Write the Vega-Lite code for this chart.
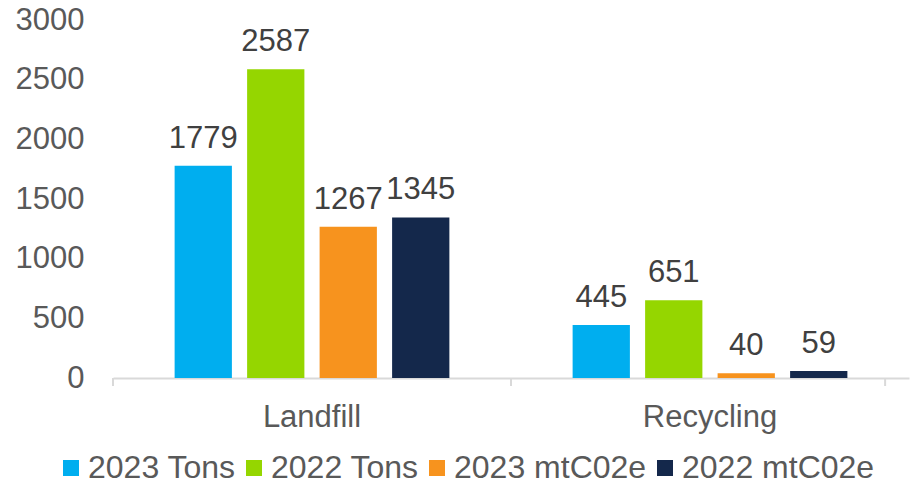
{
  "$schema": "https://vega.github.io/schema/vega-lite/v6.json",
  "autosize": "none",
  "width": 796,
  "height": 358,
  "padding": {"left": 113, "top": 20, "right": 2, "bottom": 114},
  "background": "white",
  "config": {
    "view": {"stroke": null},
    "font": "Liberation Sans",
    "axis": {"labelFont": "Liberation Sans", "labelFontSize": 31, "labelColor": "#595959"}
  },
  "data": {
    "values": [
      {"Category": "Landfill", "Series": "2023 Tons", "Value": 1779},
      {"Category": "Landfill", "Series": "2022 Tons", "Value": 2587},
      {"Category": "Landfill", "Series": "2023 mtC02e", "Value": 1267},
      {"Category": "Landfill", "Series": "2022 mtC02e", "Value": 1345},
      {"Category": "Recycling", "Series": "2023 Tons", "Value": 445},
      {"Category": "Recycling", "Series": "2022 Tons", "Value": 651},
      {"Category": "Recycling", "Series": "2023 mtC02e", "Value": 40},
      {"Category": "Recycling", "Series": "2022 mtC02e", "Value": 59}
    ]
  },
  "encoding": {
    "x": {
      "field": "Category", "type": "nominal",
      "scale": {"paddingInner": 0, "paddingOuter": 0},
      "axis": {"title": null, "labelAngle": 0, "ticks": false, "domainColor": "#D9D9D9", "domainWidth": 2, "labelPadding": 24, "labelBaseline": "top"}
    }
  },
  "layer": [
    {
      "mark": {"type": "bar"},
      "encoding": {
        "xOffset": {"field": "Series", "type": "nominal", "sort": ["2023 Tons", "2022 Tons", "2023 mtC02e", "2022 mtC02e"], "scale": {"paddingInner": 0.21, "paddingOuter": 0.85}},
        "y": {
          "field": "Value", "type": "quantitative",
          "scale": {"domain": [0, 3000]},
          "axis": {"title": null, "format": "d", "values": [0, 500, 1000, 1500, 2000, 2500, 3000], "grid": false, "domain": false, "ticks": false, "labelPadding": 29}
        },
        "color": {
          "field": "Series", "type": "nominal",
          "sort": ["2023 Tons", "2022 Tons", "2023 mtC02e", "2022 mtC02e"],
          "scale": {"domain": ["2023 Tons", "2022 Tons", "2023 mtC02e", "2022 mtC02e"], "range": ["#00AEEF", "#95D600", "#F7931E", "#14284B"]},
          "legend": {
            "title": null, "orient": "none", "direction": "horizontal",
            "legendX": -58, "legendY": 432,
            "symbolType": "square", "symbolSize": 256, "symbolStrokeWidth": 0,
            "labelFont": "Liberation Sans", "labelFontSize": 32, "labelColor": "#595959", "labelLimit": 400,
            "labelOffset": 1, "columnPadding": 2
          }
        }
      }
    },
    {
      "mark": {"type": "text", "dy": -18, "baseline": "alphabetic", "align": "center", "fontSize": 31, "color": "#404040", "font": "Liberation Sans"},
      "encoding": {
        "xOffset": {"field": "Series", "type": "nominal", "sort": ["2023 Tons", "2022 Tons", "2023 mtC02e", "2022 mtC02e"]},
        "y": {"field": "Value", "type": "quantitative"},
        "text": {"field": "Value", "type": "quantitative"}
      }
    },
    {
      "data": {"values": [{"Category": "Landfill"}, {"Category": "Recycling"}]},
      "mark": {"type": "rule", "color": "#D9D9D9", "strokeWidth": 2, "clip": false},
      "encoding": {
        "x": {"field": "Category", "type": "nominal", "bandPosition": 0},
        "y": {"datum": 0},
        "y2": {"datum": -67}
      }
    },
    {
      "data": {"values": [{"Category": "Recycling"}]},
      "mark": {"type": "rule", "color": "#D9D9D9", "strokeWidth": 2, "clip": false},
      "encoding": {
        "x": {"field": "Category", "type": "nominal", "bandPosition": 0.94},
        "y": {"datum": 0},
        "y2": {"datum": -67}
      }
    }
  ]
}
